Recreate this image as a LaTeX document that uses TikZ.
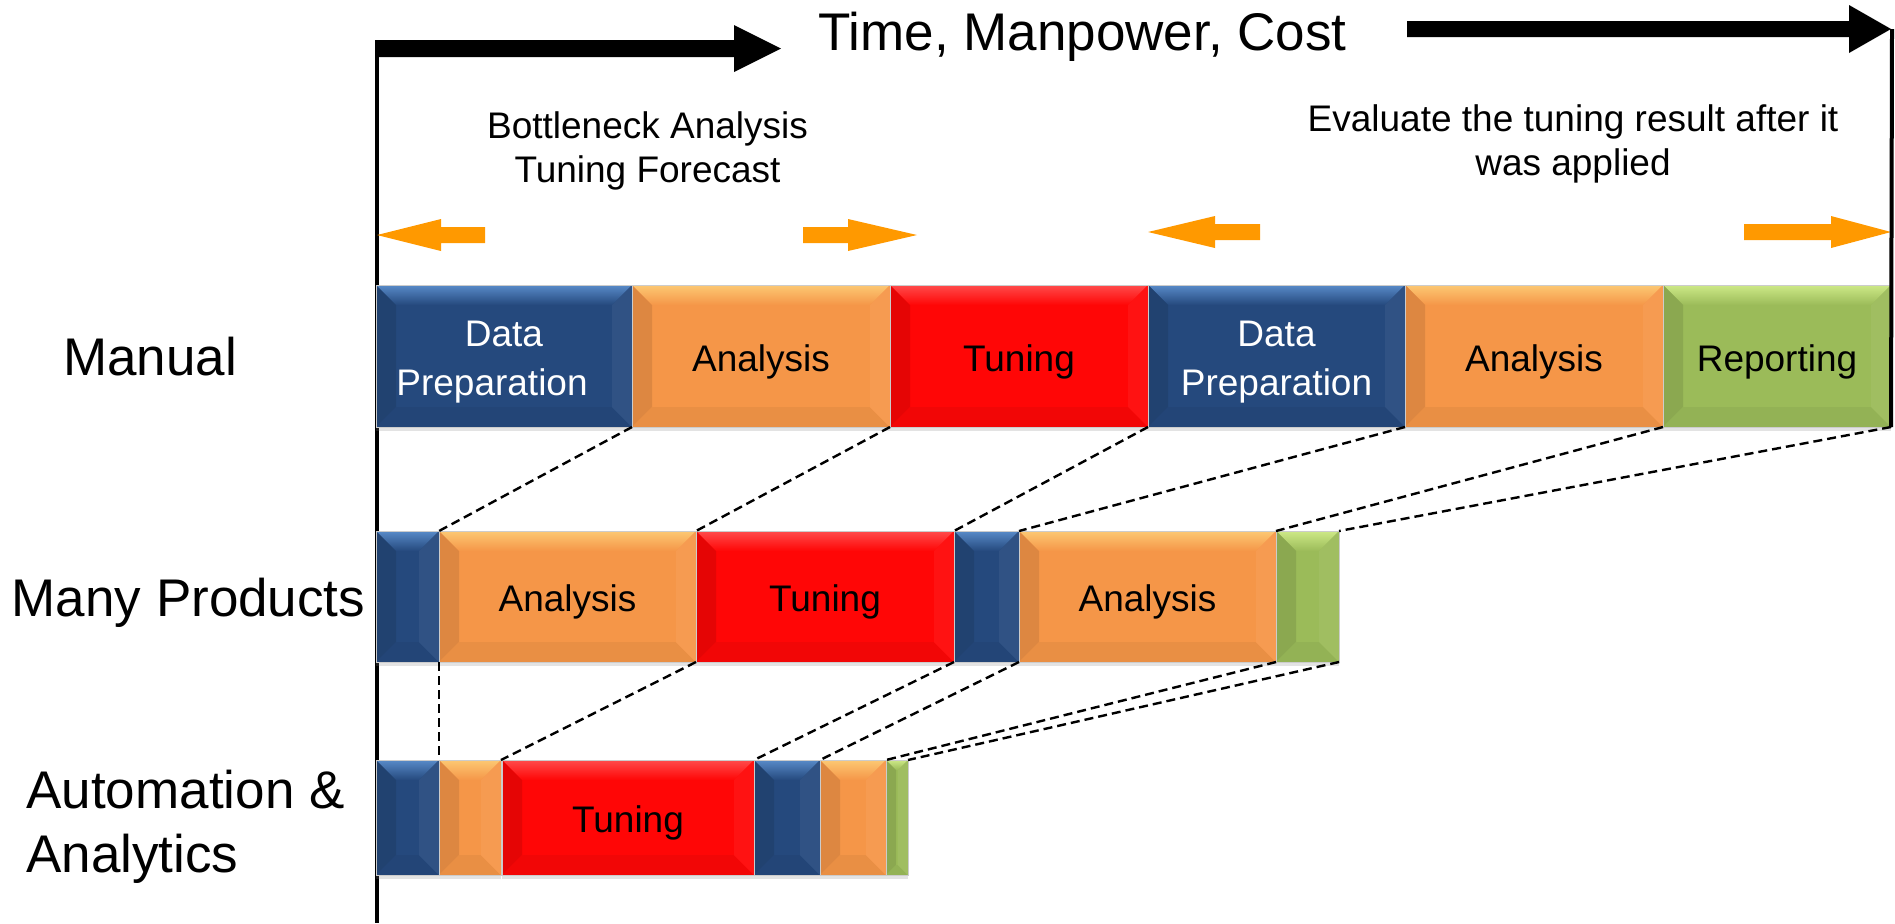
\documentclass[tikz,border=0pt]{standalone}
\usepackage{fontspec}
\setmainfont{Liberation Sans}
\usetikzlibrary{calc,shadows}
\definecolor{cblue}{RGB}{37,73,125}
\definecolor{cbluel}{RGB}{88,138,200}
\definecolor{corange}{RGB}{245,150,72}
\definecolor{corangel}{RGB}{252,200,115}
\definecolor{cred}{RGB}{255,6,6}
\definecolor{credl}{RGB}{255,75,75}
\definecolor{cgreen}{RGB}{155,187,89}
\definecolor{cgreenl}{RGB}{205,233,135}
\definecolor{carrow}{RGB}{255,153,0}
\newcommand\lblfont{\fontsize{26.5pt}{32pt}\selectfont}
\newcommand\boxfont{\fontsize{18.5pt}{24.5pt}\selectfont}
\newcommand\notefont{\fontsize{18.5pt}{22.2pt}\selectfont}
\newcommand\dn{\rule{0pt}{19.2pt}}
\tikzset{
  bevel inset/.store in=\bevinset, bevel inset=10pt,
  bevelbox/.style 2 args={rectangle, inner sep=0pt, outer sep=0pt, anchor=north west,
    fill=#1, draw=black!20, line width=0.5pt, font=\boxfont, align=center,
    drop shadow={opacity=0.22, shadow xshift=0pt, shadow yshift=-2pt},
    path picture={
      \path (path picture bounding box.north west) coordinate (bNW)
            (path picture bounding box.south east) coordinate (bSE)
            (path picture bounding box.north east) coordinate (bNE)
            (path picture bounding box.south west) coordinate (bSW);
      \shade[top color=#2, bottom color=#1] (bNW) -- (bNE) -- ($(bNE)+(-\bevinset,-\bevinset)$) -- ($(bNW)+(\bevinset,-\bevinset)$) -- cycle;
      \fill[#1!90!black] (bNW) -- ($(bNW)+(\bevinset,-\bevinset)$) -- ($(bSW)+(\bevinset,\bevinset)$) -- (bSW) -- cycle;
      \fill[#1!95!black] (bSW) -- ($(bSW)+(\bevinset,\bevinset)$) -- ($(bSE)+(-\bevinset,\bevinset)$) -- (bSE) -- cycle;
      \fill[#1!95!white] (bNE) -- ($(bNE)+(-\bevinset,-\bevinset)$) -- ($(bSE)+(-\bevinset,\bevinset)$) -- (bSE) -- cycle;
    }},
  bluebox/.style={bevelbox={cblue}{cbluel}, text=white},
  orangebox/.style={bevelbox={corange}{corangel}},
  redbox/.style={bevelbox={cred}{credl}},
  greenbox/.style={bevelbox={cgreen}{cgreenl}},
  rowone/.style={minimum height=71pt},
  rowtwo/.style={minimum height=65.5pt},
  rowthree/.style={minimum height=57.5pt},
  conn/.style={dash pattern=on 4.5pt off 2.5pt, line width=1.2pt, black},
  lbl/.style={inner sep=0pt, font=\lblfont},
  note/.style={inner sep=0pt, align=center, font=\notefont},
}
\begin{document}
\begin{tikzpicture}[x=0.5pt,y=-0.5pt]
\useasboundingbox (0,0) rectangle (1895,923);
\fill[white] (0,0) rectangle (1895,923);

% axes
\coordinate (axtop) at (377,40);
\coordinate (axbot) at (377,923);
\draw[line width=2.3pt] (axtop) -- (axbot);

% top black arrows
\fill[black] (375,40) -- (734,40) -- (734,25) -- (781,48.5) -- (734,72) -- (734,57) -- (375,57) -- cycle;
\fill[black] (1407,21) -- (1849,21) -- (1849,5) -- (1891,29) -- (1849,53) -- (1849,37) -- (1407,37) -- cycle;
\node[lbl, anchor=base west] (title) at (818,50) {Time, Manpower, Cost};

% annotations
\node[note] (bottle) at (647.5,151) {Bottleneck Analysis\\Tuning Forecast};
\node[note] (eval) at (1573,144) {Evaluate the tuning result after it\\was applied};

% orange arrows
\fill[carrow] (377,235) -- (441,219) -- (441,227) -- (485,227) -- (485,243) -- (441,243) -- (441,251) -- cycle;
\fill[carrow] (803,227) -- (848,227) -- (848,219) -- (917,235) -- (848,251) -- (848,243) -- (803,243) -- cycle;
\fill[carrow] (1148,232) -- (1215,216) -- (1215,224) -- (1260,224) -- (1260,240) -- (1215,240) -- (1215,248) -- cycle;
\fill[carrow] (1744,224) -- (1831,224) -- (1831,216) -- (1891,232) -- (1831,248) -- (1831,240) -- (1744,240) -- cycle;

% row labels
\node[lbl, anchor=base] (lman) at (150,375) {Manual};
\node[lbl, anchor=base] (lmany) at (188.5,616) {Many Products};
\node[lbl, anchor=west, align=left] (lauto) at (26,827) {Automation \&\\Analytics};

% row 1: Manual
\node[bluebox, rowone, minimum width=128pt] (m1) at (376,285) {\dn Data\\Preparation\rule{12pt}{0pt}};
\node[orangebox, rowone, minimum width=129pt] (m2) at (632,285) {\dn Analysis};
\node[redbox, rowone, minimum width=129pt] (m3) at (890,285) {\dn Tuning};
\node[bluebox, rowone, minimum width=128.5pt] (m4) at (1148,285) {\dn Data\\Preparation};
\node[orangebox, rowone, minimum width=129pt] (m5) at (1405,285) {\dn Analysis};
\node[greenbox, rowone, minimum width=114pt] (m6) at (1663,285) {\dn Reporting};

% row 2: Many Products
\node[bluebox, rowtwo, minimum width=31.5pt] (p1) at (376,531) {};
\node[orangebox, rowtwo, minimum width=128.5pt] (p2) at (439,531) {\dn Analysis};
\node[redbox, rowtwo, minimum width=129pt] (p3) at (696,531) {\dn Tuning};
\node[bluebox, rowtwo, minimum width=32.5pt] (p4) at (954,531) {};
\node[orangebox, rowtwo, minimum width=128.5pt] (p5) at (1019,531) {\dn Analysis};
\node[greenbox, rowtwo, minimum width=31.5pt] (p6) at (1276,531) {};

% row 3: Automation & Analytics
\node[bluebox, rowthree, minimum width=31.5pt] (a1) at (376,760) {};
\node[orangebox, rowthree, minimum width=31pt] (a2) at (439,760) {};
\node[redbox, rowthree, minimum width=126pt] (a3) at (502,760) {\dn Tuning};
\node[bluebox, rowthree, minimum width=33pt] (a4) at (754,760) {};
\node[orangebox, rowthree, minimum width=33pt] (a5) at (820,760) {};
\node[greenbox, rowthree, minimum width=11pt, bevel inset=5pt] (a6) at (886,760) {};

% right boundary line
\coordinate (rtop) at (1892,29);
\draw[line width=2pt] (rtop) -- (m6.south east);

% dashed connectors: Manual -> Many Products
\draw[conn] (m1.south east) -- (p1.north east);
\draw[conn] (m2.south east) -- (p2.north east);
\draw[conn] (m3.south east) -- (p3.north east);
\draw[conn] (m4.south east) -- (p4.north east);
\draw[conn] (m5.south east) -- (p5.north east);
\draw[conn] (m6.south east) -- (p6.north east);
% Many Products -> Automation
\draw[conn] (p1.south east) -- (a1.north east);
\draw[conn] (p2.south east) -- (a2.north east);
\draw[conn] (p3.south east) -- (a3.north east);
\draw[conn] (p4.south east) -- (a4.north east);
\draw[conn] (p5.south east) -- (a5.north east);
\draw[conn] (p6.south east) -- (a6.north east);
\end{tikzpicture}
\end{document}
